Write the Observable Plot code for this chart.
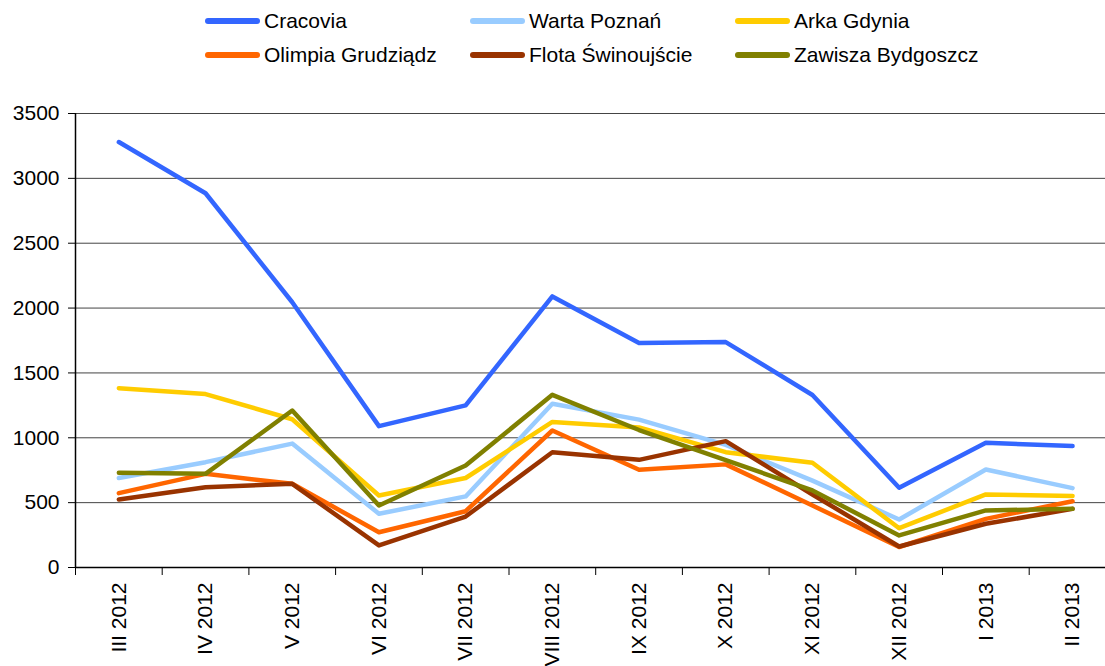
<!DOCTYPE html>
<html>
<head>
<meta charset="utf-8">
<script src="https://cdn.jsdelivr.net/npm/d3@7"></script>
<script src="https://cdn.jsdelivr.net/npm/@observablehq/plot@0.6"></script>
<style>
  html, body { margin: 0; padding: 0; background: #fff; }
  body { width: 1105px; height: 666px; overflow: hidden; font-family: "Liberation Sans", Arial, sans-serif; }
  #legend { position: relative; height: 80px; }
  .item { position: absolute; display: flex; align-items: center; font-size: 21px; color: #000; }
  .sw { width: 55px; height: 6px; border-radius: 3px; margin-right: 4px; }
</style>
</head>
<body>
<div id="legend"></div>
<div id="chart"></div>
<script>
const months = ["III 2012","IV 2012","V 2012","VI 2012","VII 2012","VIII 2012","IX 2012","X 2012","XI 2012","XII 2012","I 2013","II 2013"];
const seriesNames = ["Cracovia","Warta Poznań","Arka Gdynia","Olimpia Grudziądz","Flota Świnoujście","Zawisza Bydgoszcz"];
const seriesColors = ["#3366FF","#99CCFF","#FFCC00","#FF6600","#993300","#808000"];
const cracovia = [3280, 2885, 2045, 1090, 1250, 2090, 1730, 1738, 1330, 615, 962, 936];
const warta    = [690, 812, 955, 414, 548, 1262, 1140, 945, 670, 370, 756, 612];
const arka     = [1382, 1337, 1143, 555, 690, 1122, 1080, 889, 807, 303, 563, 552];
const olimpia  = [573, 722, 645, 272, 434, 1056, 754, 795, 478, 158, 375, 511];
const flota    = [524, 619, 645, 170, 393, 889, 830, 974, 563, 162, 337, 452];
const zawisza  = [730, 722, 1210, 478, 786, 1331, 1060, 828, 594, 247, 440, 452];
const yTicks = [0, 500, 1000, 1500, 2000, 2500, 3000, 3500];

const seriesValues = [cracovia, warta, arka, olimpia, flota, zawisza];
const rows = [];
seriesNames.forEach((name, s) => {
  seriesValues[s].forEach((v, i) => rows.push({series: name, idx: i, value: v}));
});

// Legend
const legend = document.getElementById("legend");
const legendPos = [[205,21],[470,21],[735,21],[205,55],[470,55],[735,55]];
seriesNames.forEach((name, k) => {
  const c = seriesColors[k];
  const el = document.createElement("div");
  el.className = "item";
  el.style.left = legendPos[k][0] + "px";
  el.style.top = (legendPos[k][1] - 12) + "px";
  el.style.height = "24px";
  el.innerHTML = `<span class="sw" style="background:${c}"></span><span>${name}</span>`;
  legend.appendChild(el);
});

const n = months.length;
const chart = Plot.plot({
  width: 1105,
  height: 586,
  marginTop: 33,
  marginBottom: 99,
  marginLeft: 75,
  marginRight: 0,
  style: {fontFamily: "'Liberation Sans', Arial, sans-serif", fontSize: "21px", color: "#000", background: "#fff"},
  x: {domain: [0, n], range: [75, 75 + 86.7 * n]},
  y: {domain: [0, 3500], range: [487, 33]},
  color: {domain: seriesNames, range: seriesColors},
  marks: [
    Plot.ruleY(yTicks.filter(d => d > 0), {stroke: "#444", strokeWidth: 1}),
    Plot.axisY({ticks: yTicks, tickSize: 7, tickPadding: 9, label: null, tickFormat: d => String(d), fontSize: 21, stroke: "#000"}),
    Plot.axisX({ticks: d3.range(n + 1), tickSize: 8, tickFormat: () => "", label: null}),
    Plot.axisX({ticks: d3.range(n).map(i => i + 0.5), tickSize: 0, tickPadding: 15, tickRotate: -90,
                tickFormat: d => months[Math.round(d - 0.5)], label: null, fontSize: 21}),
    Plot.line(rows, {x: d => d.idx + 0.5, y: "value", z: "series", stroke: "series", strokeWidth: 4.5, strokeLinejoin: "round", strokeLinecap: "round"}),
    Plot.ruleY([0], {stroke: "#000", strokeWidth: 1.5}),
    Plot.ruleX([0], {stroke: "#000", strokeWidth: 1.5, y1: 0, y2: 3500})
  ]
});
document.getElementById("chart").appendChild(chart);
</script>
</body>
</html>
